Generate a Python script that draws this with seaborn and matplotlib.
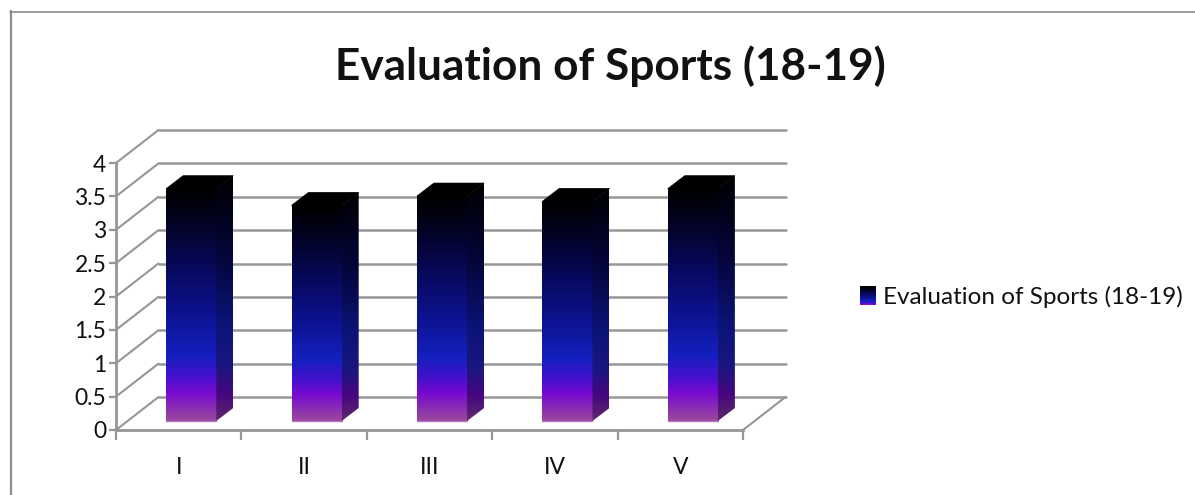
import matplotlib
matplotlib.use('Agg')
import matplotlib.pyplot as plt
from matplotlib.colors import LinearSegmentedColormap
from matplotlib.legend_handler import HandlerBase
from matplotlib.lines import Line2D
from matplotlib.patches import Polygon, Rectangle
from matplotlib.transforms import Affine2D
import numpy as np
import pandas as pd
import seaborn as sns

categories = ['I', 'II', 'III', 'IV', 'V']
values = [3.48, 3.23, 3.37, 3.29, 3.48]
series_name = 'Evaluation of Sports (18-19)'
y_ticks = [0, 0.5, 1, 1.5, 2, 2.5, 3, 3.5, 4]
y_tick_labels = ['0', '0.5', '1', '1.5', '2', '2.5', '3', '3.5', '4']

W, H = 1195, 495
GRID = '#969696'
WALL_DX, WALL_DY = 42.5, 33     # depth of the fake 3d box, in px
BAR_DX, BAR_DY = 12.5, 9        # bars stand a little inside the floor
SIDE_DX, SIDE_DY = 17, 13       # depth of each bar

front_cmap = LinearSegmentedColormap.from_list('front', [
    (0.0, '#000000'), (0.12, '#02021c'), (0.35, '#07095e'), (0.55, '#0d1392'),
    (0.72, '#1420bf'), (0.81, '#4410cc'), (0.88, '#780ad0'), (1.0, '#9a4a9c')])
side_cmap = LinearSegmentedColormap.from_list('side', [
    (0.0, '#000000'), (0.35, '#04063e'), (0.62, '#0c1478'), (0.78, '#1a1680'),
    (0.89, '#46067f'), (1.0, '#5c2a6a')])

sns.set_style('white')
plt.rcParams['font.family'] = ['Lato', 'DejaVu Sans']

df = pd.DataFrame({'Category': categories, 'Value': values})

fig = plt.figure(figsize=(W / 100, H / 100), dpi=100)
ax = fig.add_axes([116 / W, 1 - 430 / H, (743 - 116) / W, (430 - 163) / H])
ax.patch.set_alpha(0)

sns.barplot(data=df, x='Category', y='Value', width=0.4, ax=ax, color='#1420bf', zorder=3)
ax.set_xlim(-0.5, 4.5)
ax.set_ylim(0, 4)
ax.set_xlabel('')
ax.set_ylabel('')
ax.set_yticks(y_ticks)
ax.set_yticklabels(y_tick_labels)
ax.tick_params(axis='both', bottom=True, left=True, width=1.6, color=GRID, labelsize=16.5, labelcolor='#111111')
ax.tick_params(axis='x', length=7)
ax.tick_params(axis='y', length=5, pad=2)
ax.set_xticks(np.arange(-0.5, 5, 1))
ax.set_xticklabels([])
for i, cat in enumerate(categories):
    ax.annotate(cat, (i, 0), xytext=(0, -37), textcoords='offset pixels', ha='center', va='center',
                fontsize=16.5, color='#111111', annotation_clip=False)

sns.despine(ax=ax)
for side in ['left', 'bottom']:
    ax.spines[side].set_color(GRID)
    ax.spines[side].set_linewidth(2)

# back wall gridlines and the diagonals joining them to the value axis
back = ax.transData + Affine2D().translate(WALL_DX, WALL_DY)
for v in y_ticks:
    ax.plot([-0.5, 4.5], [v, v], transform=back, color=GRID, lw=1.8, clip_on=False, zorder=1)
    start = ax.transData.transform((-0.5, v))
    fig.add_artist(Line2D([start[0] / W, (start[0] + WALL_DX) / W],
                          [start[1] / H, (start[1] + WALL_DY) / H], color=GRID, lw=1.5, zorder=1))
start = ax.transData.transform((4.5, 0))
fig.add_artist(Line2D([start[0] / W, (start[0] + WALL_DX) / W],
                      [start[1] / H, (start[1] + WALL_DY) / H], color=GRID, lw=1.5, zorder=1))

# turn the flat seaborn bars into gradient boxes
shift = Affine2D().translate(BAR_DX, BAR_DY)
grad = np.linspace(0, 1, 256).reshape(-1, 1)
for bar in ax.patches:
    x0, x1 = bar.get_x(), bar.get_x() + bar.get_width()
    top = bar.get_height()
    p00 = ax.transData.transform((x0, 0)) + [BAR_DX, BAR_DY]
    p11 = ax.transData.transform((x1, top)) + [BAR_DX, BAR_DY]
    bar.set_visible(False)

    ax.imshow(grad, cmap=front_cmap, aspect='auto', zorder=4, clip_on=False, interpolation='bilinear',
              extent=(x0, x1, 0, top), transform=ax.transData + shift)

    side = Polygon([(p11[0], p00[1]), (p11[0] + SIDE_DX, p00[1] + SIDE_DY),
                    (p11[0] + SIDE_DX, p11[1] + SIDE_DY), (p11[0], p11[1])],
                   transform=None, facecolor='none', edgecolor='none', clip_on=False)
    ax.add_patch(side)
    im = ax.imshow(grad, cmap=side_cmap, aspect='auto', zorder=4, clip_on=True, interpolation='bilinear',
                   extent=(p11[0], p11[0] + SIDE_DX, p00[1], p11[1] + SIDE_DY), transform=Affine2D())
    im.set_clip_path(side)

    ax.add_patch(Polygon([(p00[0], p11[1]), (p00[0] + SIDE_DX, p11[1] + SIDE_DY),
                          (p11[0] + SIDE_DX, p11[1] + SIDE_DY), (p11[0], p11[1])],
                         transform=None, facecolor='#000000', edgecolor='#000000', lw=0.5, zorder=5, clip_on=False))
    ax.plot([x0, x1], [0, 0], transform=ax.transData + shift, color='#b676c8', lw=1.0, zorder=6, clip_on=False)

ax.set_xlim(-0.5, 4.5)
ax.set_ylim(0, 4)


class GradientHandler(HandlerBase):
    def create_artists(self, legend, orig_handle, xdescent, ydescent, width, height, fontsize, trans):
        n = 16
        return [Rectangle((0, height * (1 - (k + 1) / n) - 1), width, height / n + 0.3,
                          facecolor=front_cmap(0.9 * k / (n - 1)), edgecolor='none', transform=trans)
                for k in range(n)]


ax.legend([ax.patches[0]], [series_name], handler_map={ax.patches[0]: GradientHandler()},
          loc='center left', bbox_to_anchor=(860 / W, 1 - 297 / H), bbox_transform=fig.transFigure,
          frameon=False, fontsize=17.5, handlelength=0.66, handleheight=0.8, handletextpad=0.3,
          borderpad=0, borderaxespad=0, labelcolor='#111111')

fig.text(610 / W, 1 - 66 / H, series_name, ha='center', va='center', fontsize=31.8, fontweight='bold', color='#111111')

# chart frame: only the top and left edges are inside the crop
fig.add_artist(Line2D([11 / W, 11 / W], [0, 1 - 11 / H], color='#8c8c8c', lw=1.6))
fig.add_artist(Line2D([10 / W, 1], [1 - 11.5 / H, 1 - 11.5 / H], color='#8c8c8c', lw=1.2))

fig.savefig('out.png', dpi=100)
